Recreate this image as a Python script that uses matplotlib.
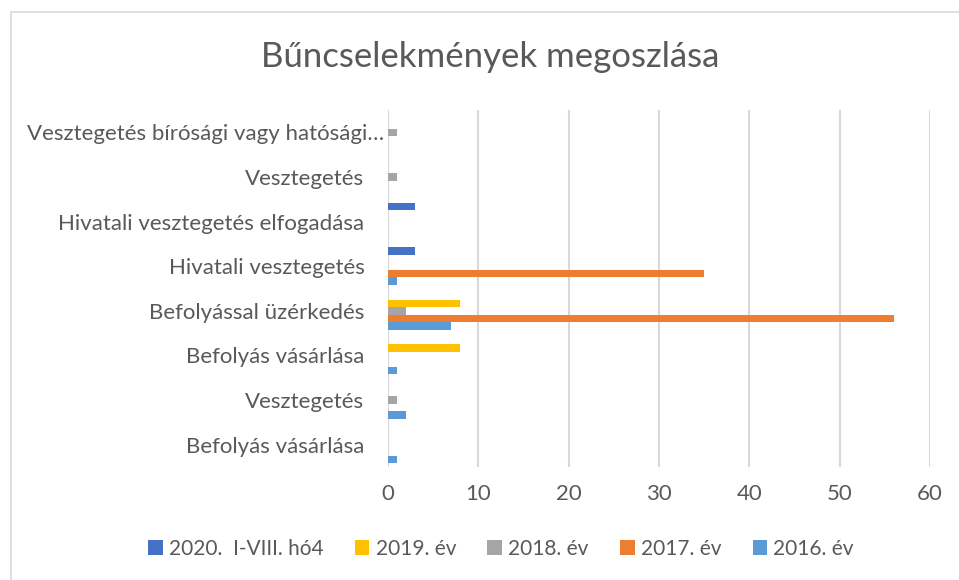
import numpy as np
import matplotlib
matplotlib.use("Agg")
import matplotlib.pyplot as plt
import matplotlib.patches as patches

plt.rcParams['font.family'] = ['Lato', 'DejaVu Sans']

# data (categories listed bottom -> top)
categories = [
    "Befolyás vásárlása",
    "Vesztegetés",
    "Befolyás vásárlása",
    "Befolyással üzérkedés",
    "Hivatali vesztegetés",
    "Hivatali vesztegetés elfogadása",
    "Vesztegetés",
    "Vesztegetés bírósági vagy hatósági…",
]
series_names = ["2016. év", "2017. év", "2018. év", "2019. év", "2020.  I-VIII. hó4"]
v2016 = [1, 2, 1, 7, 1, 0, 0, 0]
v2017 = [0, 0, 0, 56, 35, 0, 0, 0]
v2018 = [0, 1, 0, 2, 0, 0, 1, 1]
v2019 = [0, 0, 8, 8, 0, 0, 0, 0]
v2020 = [0, 0, 0, 0, 3, 3, 0, 0]
colors = ["#5B9BD5", "#ED7D31", "#A5A5A5", "#FFC000", "#4472C4"]
xticks = [0, 10, 20, 30, 40, 50, 60]

text_col = "#595959"

fig = plt.figure(figsize=(9.59, 5.8), dpi=100)

# chart area border
fig.patches.append(patches.Rectangle((11 / 959, -0.05), 1.1, 1 - 12 / 580 + 0.05,
                                     transform=fig.transFigure, fill=False,
                                     edgecolor="#d9d9d9", linewidth=1.2))

ax = fig.add_axes([388 / 959, 1 - 467 / 580, 542 / 959, 357 / 580])

values = [v2016, v2017, v2018, v2019, v2020]
y = np.arange(len(categories))
bh = 0.168
offsets = (np.arange(5) - 2) * bh
for vals, off, col, name in zip(values, offsets, colors, series_names):
    ax.barh(y + off, vals, height=bh, color=col, label=name)

ax.set_xlim(0, 60)
ax.set_ylim(-0.5, len(categories) - 0.5)
ax.set_xticks(xticks)
ax.set_yticks(y)
ax.set_yticklabels(categories)
ax.tick_params(axis="both", length=0, labelsize=16, colors=text_col)
ax.tick_params(axis="y", pad=17)
ax.tick_params(axis="x", pad=12)
# truncated label sits closer to the axis
ax.yaxis.get_major_ticks()[-1].set_pad(3)
ax.grid(axis="x", color="#d9d9d9", linewidth=1.5)
ax.set_axisbelow(True)
for s in ax.spines.values():
    s.set_visible(False)

fig.text(490 / 959, 1 - 57 / 580, "Bűncselekmények megoszlása", ha="center", va="center",
         fontsize=25, color=text_col)

handles, labels = ax.get_legend_handles_labels()
leg = fig.legend(handles[::-1], labels[::-1], loc="center", bbox_to_anchor=(501 / 959, 1 - 549 / 580),
                 ncol=5, frameon=False, fontsize=15, handlelength=0.7, handleheight=0.7,
                 handletextpad=0.3, columnspacing=1.5)
for t in leg.get_texts():
    t.set_color(text_col)

plt.savefig("out.png", dpi=100)
